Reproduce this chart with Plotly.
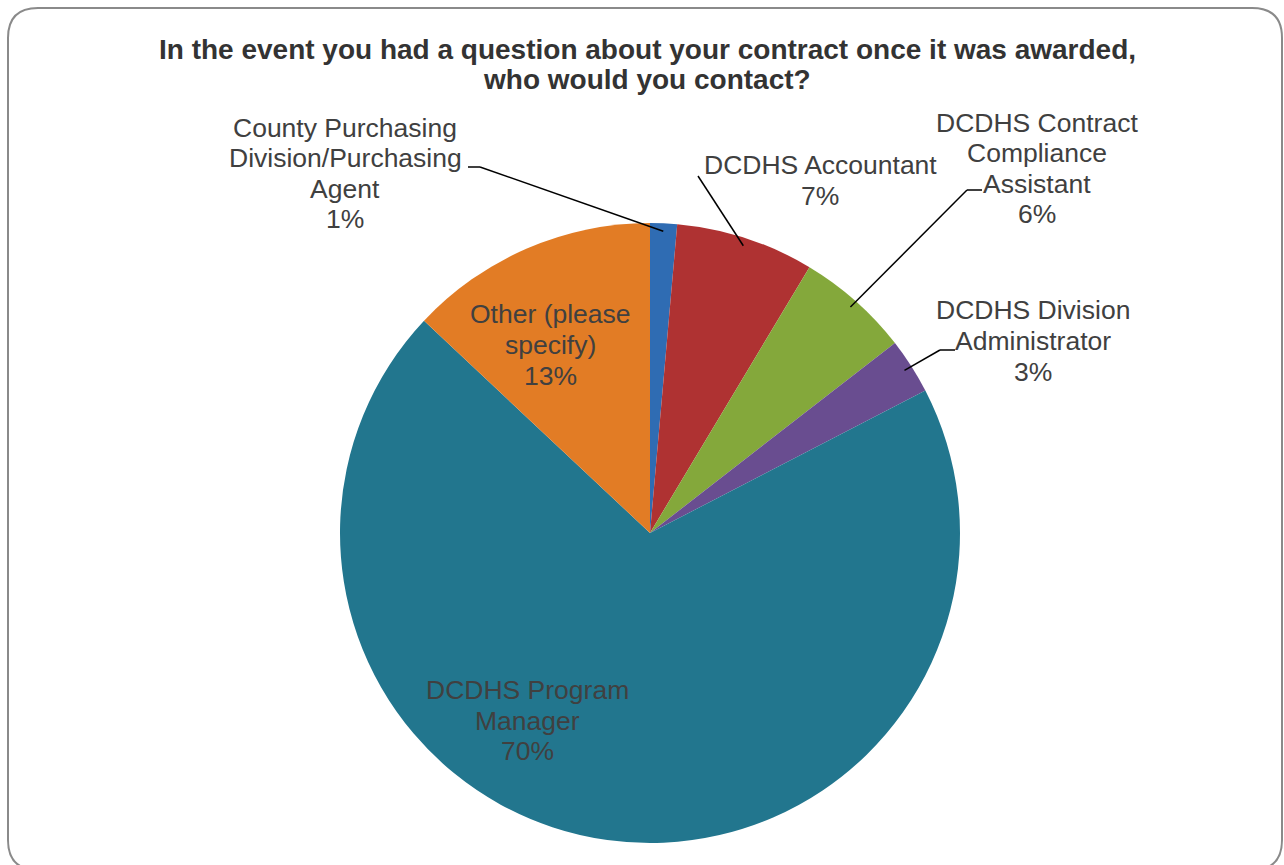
import math
import plotly.graph_objects as go

W, H = 1284, 865

labels = [
    "County Purchasing<br>Division/Purchasing<br>Agent",
    "DCDHS Accountant",
    "DCDHS Contract<br>Compliance<br>Assistant",
    "DCDHS Division<br>Administrator",
    "DCDHS Program<br>Manager",
    "Other (please<br>specify)",
]
values = [1.4, 7.2, 5.9, 2.9, 69.6, 13.0]
colors = ["#2F6CB3", "#AF3232", "#84A83B", "#694D90", "#22768E", "#E27C25"]
title_text = ["In the event you had a question about your contract once it was awarded,",
              "who would you contact?"]

# label block centres (pixels) and leader line elbows
label_pos = [(345, 173.5), (820, 180.5), (1037, 168.5), (1033, 341), (527, 720.5), (550, 345)]
leader_elbow = [(468, 167), (698, 176), (982, 190), (955, 350), None, None]
leader_knee = [(480, 167), None, (967, 190), (940, 350), None, None]

# pie geometry (pixels)
cx, cy, R = 650, 533, 310

FONT = "Liberation Sans, Arial"
LABEL_SIZE = 26.5
LINE_GAP = 30.5


def px(x):
    return x / W


def py(y):
    return 1 - y / H


fig = go.Figure()
fig.add_trace(go.Pie(
    labels=labels,
    values=values,
    sort=False,
    direction="clockwise",
    rotation=0,
    marker=dict(colors=colors, line=dict(width=0)),
    textinfo="none",
    hoverinfo="label+percent",
    showlegend=False,
    domain=dict(x=[px(cx - R), px(cx + R)], y=[py(cy + R), py(cy - R)]),
))


def text_block(lines, x, yc, gap, font):
    out = []
    n = len(lines)
    for i, t in enumerate(lines):
        y = yc + (i - (n - 1) / 2) * gap
        out.append(dict(x=px(x), y=py(y), xref="paper", yref="paper", text=t,
                        showarrow=False, xanchor="center", yanchor="middle",
                        align="center", font=font))
    return out


total = sum(values)
annotations = []
shapes = []
cum = 0.0
for lab, v, pos, elbow, knee in zip(labels, values, label_pos, leader_elbow, leader_knee):
    pct = round(v / total * 100)
    mid = (cum + v / 2) / total * 2 * math.pi
    cum += v
    lines = lab.split("<br>") + [f"{pct}%"]
    annotations += text_block(lines, pos[0], pos[1], LINE_GAP,
                              dict(family=FONT, size=LABEL_SIZE, color="#404040"))
    if elbow is not None:
        sx = cx + (R - 8) * math.sin(mid)
        sy = cy - (R - 8) * math.cos(mid)
        pts = [(sx, sy)]
        if knee is not None:
            pts.append(knee)
        pts.append(elbow)
        for (x0, y0), (x1, y1) in zip(pts[:-1], pts[1:]):
            shapes.append(dict(type="line", xref="paper", yref="paper",
                               x0=px(x0), y0=py(y0), x1=px(x1), y1=py(y1),
                               line=dict(color="#000000", width=1.5)))

annotations += text_block([f"<b>{t}</b>" for t in title_text], 647, 65, 30,
                          dict(family=FONT, size=28, color="#333333"))

# rounded frame
L, T, Rr, B, r = 8, 8, 1282, 870, 30
path = (f"M {px(L+r)},{py(T)} L {px(Rr-r)},{py(T)} Q {px(Rr)},{py(T)} {px(Rr)},{py(T+r)} "
        f"L {px(Rr)},{py(B-r)} Q {px(Rr)},{py(B)} {px(Rr-r)},{py(B)} "
        f"L {px(L+r)},{py(B)} Q {px(L)},{py(B)} {px(L)},{py(B-r)} "
        f"L {px(L)},{py(T+r)} Q {px(L)},{py(T)} {px(L+r)},{py(T)} Z")
shapes.append(dict(type="path", xref="paper", yref="paper", path=path,
                   line=dict(color="#8A8A8A", width=2), layer="below"))

fig.update_layout(
    width=W, height=H,
    margin=dict(l=0, r=0, t=0, b=0),
    paper_bgcolor="white",
    plot_bgcolor="white",
    annotations=annotations,
    shapes=shapes,
)

fig.write_html("out.html", post_script="document.body.style.margin='0';",
               config={"displayModeBar": False})
